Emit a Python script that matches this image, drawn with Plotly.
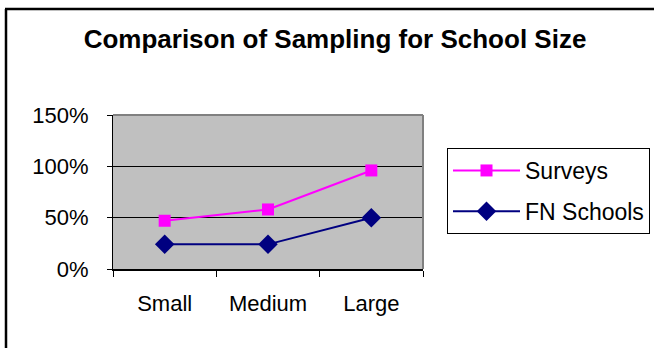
import plotly.graph_objects as go

categories = ["Small", "Medium", "Large"]
surveys = [0.47, 0.58, 0.96]
fn_schools = [0.24, 0.24, 0.50]
series_names = ["Surveys", "FN Schools"]
title_text = "Comparison of Sampling for School Size"

W, H = 654, 348
L, R, T, B = 113, 423, 115, 269  # plot area in pixels

fig = go.Figure()
fig.add_trace(go.Scatter(
    x=categories, y=surveys, name=series_names[0], mode="lines+markers",
    line=dict(color="#FF00FF", width=2),
    marker=dict(symbol="square", size=12, color="#FF00FF"),
    legendgroup="a",
))
fig.add_trace(go.Scatter(
    x=categories, y=fn_schools, name=series_names[1], mode="lines+markers",
    line=dict(color="#000080", width=2),
    marker=dict(symbol="diamond", size=15, color="#000080"),
    legendgroup="b",
))

pw, ph = R - L, B - T
def px(x):
    return (x - L) / pw
def py(y):
    return (B - y) / ph

shapes = [
    # outer chart frame (left and top edges visible)
    dict(type="line", xref="paper", yref="paper", x0=px(6), x1=px(6), y0=py(9), y1=py(360),
         line=dict(color="black", width=2.5)),
    dict(type="line", xref="paper", yref="paper", x0=px(5), x1=px(660), y0=py(9), y1=py(9),
         line=dict(color="black", width=2.5)),
    # plot area border top/right gray
    dict(type="line", xref="paper", yref="paper", x0=0, x1=1, y0=1, y1=1,
         line=dict(color="#808080", width=2)),
    dict(type="line", xref="paper", yref="paper", x0=1, x1=1, y0=0, y1=1,
         line=dict(color="#808080", width=2)),
]

fig.update_layout(
    width=W, height=H,
    margin=dict(l=L, r=W - R, t=T, b=H - B, pad=0, autoexpand=False),
    paper_bgcolor="white",
    plot_bgcolor="#C0C0C0",
    font=dict(family="Liberation Sans, Arial, sans-serif", color="black"),
    title=dict(text=title_text, x=335 / W, xanchor="center", xref="container",
               y=1 - 39 / H, yanchor="middle", yref="container",
               font=dict(size=26, family="Liberation Sans, Arial, sans-serif", color="black",
                         weight="bold")),
    showlegend=True,
    legend=dict(x=px(447), y=py(148), xanchor="left", yanchor="top",
                bordercolor="black", borderwidth=1, bgcolor="white",
                font=dict(size=23), itemwidth=67, tracegroupgap=8,
                traceorder="grouped"),
    shapes=shapes,
)
fig.update_xaxes(
    type="category", range=[-0.5, 2.5], showgrid=False,
    showline=True, linecolor="black", linewidth=2,
    ticks="outside", tickson="boundaries", ticklen=6, tickcolor="black", tickwidth=1,
    tickfont=dict(size=22), ticklabelstandoff=14,
)
fig.update_yaxes(
    range=[0, 1.5], dtick=0.5, tickformat=".0%",
    showgrid=True, gridcolor="black", gridwidth=1,
    showline=True, linecolor="black", linewidth=1,
    ticks="outside", ticklen=5, tickcolor="black",
    tickfont=dict(size=22), ticklabelstandoff=14, zeroline=False,
)

fig.write_html("out.html", config={"displayModeBar": False},
               post_script="document.body.style.margin='0';document.body.style.padding='0';")
